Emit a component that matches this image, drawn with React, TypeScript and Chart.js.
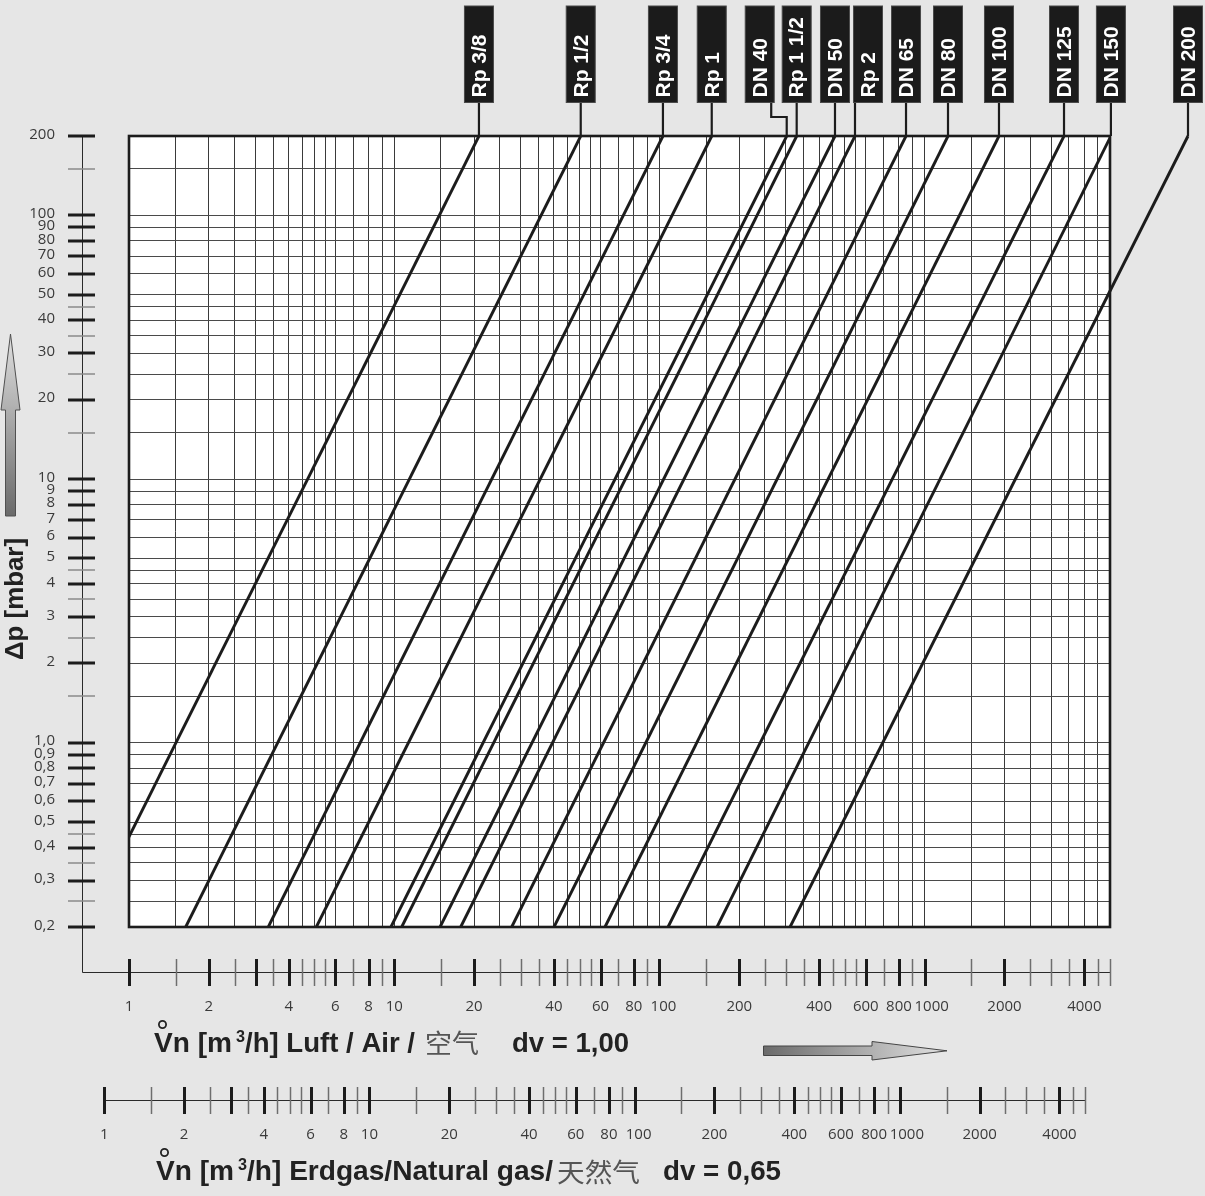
import { useEffect, useRef } from 'react';
import { Chart, registerables } from 'chart.js';

Chart.register(...registerables);

// ---- data ----
const valveNames = ['Rp 3/8', 'Rp 1/2', 'Rp 3/4', 'Rp 1', 'DN 40', 'Rp 1 1/2', 'DN 50', 'Rp 2', 'DN 65', 'DN 80', 'DN 100', 'DN 125', 'DN 150', 'DN 200'];
const dpLow = 0.2; // mbar
const dpHigh = 200; // mbar
// flow (air, m3/h) where each valve line meets dp = 0.2 mbar and dp = 200 mbar
const flowAtLow = [0.676, 1.636, 3.351, 5.085, 9.72, 10.67, 14.89, 17.81, 27.73, 40.05, 62.35, 107.8, 164.9, 310.8];
const flowAtHigh = [20.87, 50.5, 103.1, 157.5, 302, 329.3, 459.2, 546.3, 850.8, 1225, 1907, 3354, 5040, 9842];

const xMin = 1;
const xMax = 5000;
const yMin = 0.2;
const yMax = 200;

const xGridValues = [1, 1.5, 2, 2.5, 3, 3.5, 4, 4.5, 5, 5.5, 6, 7, 8, 9, 10, 15, 20, 25, 30, 35, 40, 45, 50, 55, 60, 70, 80, 90, 100, 150, 200, 250, 300, 350, 400, 450, 500, 550, 600, 700, 800, 900, 1000, 1500, 2000, 2500, 3000, 3500, 4000, 4500, 5000];
const xLabelValues = [1, 2, 4, 6, 8, 10, 20, 40, 60, 80, 100, 200, 400, 600, 800, 1000, 2000, 4000];
const xThickValues = [1, 2, 3, 4, 6, 8, 10, 20, 40, 60, 80, 100, 200, 400, 600, 800, 1000, 2000, 4000];

const yGridValues = [0.2, 0.25, 0.3, 0.35, 0.4, 0.45, 0.5, 0.6, 0.7, 0.8, 0.9, 1, 1.5, 2, 2.5, 3, 3.5, 4, 4.5, 5, 6, 7, 8, 9, 10, 15, 20, 25, 30, 35, 40, 45, 50, 60, 70, 80, 90, 100, 150, 200];
const yLabelValues = [0.2, 0.3, 0.4, 0.5, 0.6, 0.7, 0.8, 0.9, 1, 2, 3, 4, 5, 6, 7, 8, 9, 10, 20, 30, 40, 50, 60, 70, 80, 90, 100, 200];
const yLabelTexts = ['0,2', '0,3', '0,4', '0,5', '0,6', '0,7', '0,8', '0,9', '1,0', '2', '3', '4', '5', '6', '7', '8', '9', '10', '20', '30', '40', '50', '60', '70', '80', '90', '100', '200'];

const dvAir = 1.0;
const dvGas = 0.65;

// ---- layout (not data) ----
const labelShift: Record<string, number> = { 'DN 40': -27, 'Rp 2': 13 };
const xLabelNudge: Record<number, number> = { 100: 4, 1000: 7 };
const AX_X = 82;
const AIR_Y = 972;
const GAS_Y = 1100;
const INK = '#1c1c1c';
const TEXT_GRAY = '#3a3a3a';

function fitText(ctx: CanvasRenderingContext2D, text: string, x0: number, x1: number, baseline: number, font: string, color: string) {
  ctx.save();
  ctx.font = font;
  ctx.fillStyle = color;
  ctx.textAlign = 'left';
  ctx.textBaseline = 'alphabetic';
  const w = ctx.measureText(text).width;
  const s = (x1 - x0) / w;
  ctx.translate(x0, baseline);
  ctx.scale(s, 1);
  ctx.fillText(text, 0, 0);
  ctx.restore();
}

function ring(ctx: CanvasRenderingContext2D, cx: number, cy: number) {
  ctx.save();
  ctx.strokeStyle = '#222';
  ctx.lineWidth = 1.8;
  ctx.beginPath();
  ctx.arc(cx, cy, 3.6, 0, Math.PI * 2);
  ctx.stroke();
  ctx.restore();
}

const decor = {
  id: 'decor',
  beforeDraw(chart: any) {
    const { ctx, chartArea: a } = chart;
    ctx.save();
    ctx.fillStyle = '#e6e6e6';
    ctx.fillRect(0, 0, chart.width, chart.height);
    ctx.fillStyle = '#ffffff';
    ctx.fillRect(a.left, a.top, a.right - a.left, a.bottom - a.top);
    ctx.restore();
  },
  afterDraw(chart: any) {
    const { ctx, chartArea: a, scales } = chart;
    const xs = scales.x;
    const ys = scales.y;
    const gasFactor = Math.sqrt(dvGas / dvAir);
    ctx.save();

    // plot frame
    ctx.strokeStyle = INK;
    ctx.lineWidth = 2.6;
    ctx.strokeRect(a.left, a.top, a.right - a.left, a.bottom - a.top);

    // axis lines
    ctx.lineWidth = 1;
    ctx.strokeStyle = '#2a2a2a';
    ctx.beginPath();
    ctx.moveTo(AX_X + 0.5, ys.getPixelForValue(yMax));
    ctx.lineTo(AX_X + 0.5, AIR_Y + 0.5);
    ctx.lineTo(xs.getPixelForValue(xMax), AIR_Y + 0.5);
    ctx.stroke();
    ctx.beginPath();
    ctx.moveTo(xs.getPixelForValue(xMin * gasFactor), GAS_Y + 0.5);
    ctx.lineTo(xs.getPixelForValue(xMax * gasFactor), GAS_Y + 0.5);
    ctx.stroke();

    // y ticks
    yGridValues.forEach((v) => {
      const y = Math.round(ys.getPixelForValue(v));
      const major = yLabelValues.includes(v);
      ctx.strokeStyle = major ? INK : '#8a8a8a';
      ctx.lineWidth = major ? 3 : 1.5;
      ctx.beginPath();
      ctx.moveTo(68, y);
      ctx.lineTo(95, y);
      ctx.stroke();
    });
    ctx.fillStyle = TEXT_GRAY;
    ctx.font = '15px "Open Sans"';
    ctx.textAlign = 'right';
    ctx.textBaseline = 'middle';
    yLabelValues.forEach((v, i) => {
      const y = ys.getPixelForValue(v);
      ctx.fillText(yLabelTexts[i], 55, y - 1.5);
    });

    // x ticks (air and gas)
    const drawXAxis = (factor: number, lineY: number, labelY: number) => {
      xGridValues.forEach((v) => {
        const x = Math.round(xs.getPixelForValue(v * factor)) + 0.5;
        const thick = xThickValues.includes(v);
        ctx.strokeStyle = thick ? INK : '#6e6e6e';
        ctx.lineWidth = thick ? 3 : 1.5;
        ctx.beginPath();
        ctx.moveTo(x, lineY - 13);
        ctx.lineTo(x, lineY + 14);
        ctx.stroke();
      });
      ctx.fillStyle = TEXT_GRAY;
      ctx.font = '15px "Open Sans"';
      ctx.textAlign = 'center';
      ctx.textBaseline = 'middle';
      xLabelValues.forEach((v) => {
        ctx.fillText(String(v), xs.getPixelForValue(v * factor) + (xLabelNudge[v] || 0), labelY);
      });
    };
    drawXAxis(1, AIR_Y, 1007);
    drawXAxis(gasFactor, GAS_Y, 1135);

    // valve label boxes and leaders
    const boxTop = 6;
    const boxBottom = 102.5;
    const boxW = 29;
    valveNames.forEach((name, i) => {
      const lx = xs.getPixelForValue(flowAtHigh[i]);
      const bx = lx + (labelShift[name] || 0);
      ctx.strokeStyle = INK;
      ctx.lineWidth = 2.2;
      ctx.beginPath();
      if (Math.abs(lx - bx) <= boxW / 2) {
        ctx.moveTo(lx, boxBottom);
        ctx.lineTo(lx, a.top);
      } else {
        const x0 = lx > bx ? bx + boxW / 2 - 3 : bx - boxW / 2 + 3;
        ctx.moveTo(x0, boxBottom);
        ctx.lineTo(x0, 117);
        ctx.lineTo(lx, 117);
        ctx.lineTo(lx, a.top);
      }
      ctx.stroke();
      ctx.fillStyle = '#1b1b1b';
      ctx.fillRect(bx - boxW / 2, boxTop, boxW, boxBottom - boxTop);
      ctx.strokeStyle = '#4a4a4a';
      ctx.lineWidth = 1;
      ctx.strokeRect(bx - boxW / 2, boxTop, boxW, boxBottom - boxTop);
      ctx.save();
      ctx.translate(bx + 1, boxBottom - 5);
      ctx.rotate(-Math.PI / 2);
      ctx.fillStyle = '#ffffff';
      ctx.font = 'bold 21px "Liberation Sans"';
      ctx.textAlign = 'left';
      ctx.textBaseline = 'middle';
      ctx.fillText(name, 0, 0);
      ctx.restore();
    });

    // y-axis title
    ctx.save();
    ctx.translate(23, 599);
    ctx.rotate(-Math.PI / 2);
    ctx.font = 'bold 25px "Liberation Sans"';
    const tw = ctx.measureText('Δp [mbar]').width;
    ctx.scale(122 / tw, 1);
    ctx.fillStyle = '#222';
    ctx.textAlign = 'center';
    ctx.textBaseline = 'alphabetic';
    ctx.fillText('Δp [mbar]', 0, 0);
    ctx.restore();

    // bottom titles
    const bold = 'bold 27px "Liberation Sans"';
    const sup = 'bold 16px "Liberation Sans"';
    const cjk = '26px "Noto Sans CJK SC"';
    fitText(ctx, 'Vn [m', 154, 232, 1052, bold, '#222');
    fitText(ctx, '3', 236, 245, 1042, sup, '#222');
    fitText(ctx, '/h] Luft / Air /', 245, 415, 1052, bold, '#222');
    fitText(ctx, '空气', 425, 479, 1053, cjk, '#555555');
    fitText(ctx, 'dv = 1,00', 512, 629, 1052, bold, '#222');
    ring(ctx, 162.5, 1024.5);

    fitText(ctx, 'Vn [m', 156, 234, 1180, bold, '#222');
    fitText(ctx, '3', 238, 247, 1170, sup, '#222');
    fitText(ctx, '/h] Erdgas/Natural gas/', 247, 553, 1180, bold, '#222');
    fitText(ctx, '天然气', 557, 640, 1182, cjk, '#555555');
    fitText(ctx, 'dv = 0,65', 663, 781, 1180, bold, '#222');
    ring(ctx, 164.5, 1152.5);

    // vertical arrow (left)
    let g = ctx.createLinearGradient(0, 334, 0, 516);
    g.addColorStop(0, '#e0e0e0');
    g.addColorStop(1, '#6a6a6a');
    ctx.fillStyle = g;
    ctx.strokeStyle = '#505050';
    ctx.lineWidth = 1;
    ctx.beginPath();
    ctx.moveTo(10.5, 334);
    ctx.lineTo(20, 410);
    ctx.lineTo(15.5, 410);
    ctx.lineTo(15.5, 516);
    ctx.lineTo(5.5, 516);
    ctx.lineTo(5.5, 410);
    ctx.lineTo(1, 410);
    ctx.closePath();
    ctx.fill();
    ctx.stroke();

    // horizontal arrow (bottom)
    g = ctx.createLinearGradient(763, 0, 947, 0);
    g.addColorStop(0, '#6a6a6a');
    g.addColorStop(1, '#e2e2e2');
    ctx.fillStyle = g;
    ctx.strokeStyle = '#454545';
    ctx.beginPath();
    ctx.moveTo(763.5, 1046);
    ctx.lineTo(872, 1046);
    ctx.lineTo(872, 1041.5);
    ctx.lineTo(947, 1050.8);
    ctx.lineTo(872, 1060);
    ctx.lineTo(872, 1055.5);
    ctx.lineTo(763.5, 1055.5);
    ctx.closePath();
    ctx.fill();
    ctx.stroke();

    ctx.restore();
  },
};

export default function App() {
  const ref = useRef<HTMLCanvasElement | null>(null);

  useEffect(() => {
    if (!ref.current) return;
    const datasets = valveNames.map((name, i) => ({
      label: name,
      data: [
        { x: flowAtLow[i], y: dpLow },
        { x: flowAtHigh[i], y: dpHigh },
      ],
      showLine: true,
      borderColor: INK,
      backgroundColor: INK,
      borderWidth: 2.9,
      pointRadius: 0,
      fill: false,
      clip: name === 'DN 200' ? false : undefined,
    }));
    const chart = new Chart(ref.current, {
      type: 'scatter',
      data: { datasets: datasets as any },
      options: {
        responsive: false,
        animation: false,
        devicePixelRatio: 1,
        events: [],
        layout: { padding: { left: 129, top: 136, right: 95, bottom: 269 } },
        plugins: { legend: { display: false }, tooltip: { enabled: false } },
        scales: {
          x: {
            type: 'logarithmic',
            min: xMin,
            max: xMax,
            afterBuildTicks: (axis: any) => {
              axis.ticks = xGridValues.map((v) => ({ value: v }));
            },
            ticks: { display: false },
            grid: { color: '#3a3a3a', lineWidth: 1, drawTicks: false },
            border: { display: false },
          },
          y: {
            type: 'logarithmic',
            min: yMin,
            max: yMax,
            afterBuildTicks: (axis: any) => {
              axis.ticks = yGridValues.map((v) => ({ value: v }));
            },
            ticks: { display: false },
            grid: { color: '#4a4a4a', lineWidth: 1, drawTicks: false },
            border: { display: false },
          },
        },
      } as any,
      plugins: [decor],
    });
    return () => chart.destroy();
  }, []);

  return (
    <div style={{ position: 'absolute', left: 0, top: 0, width: 1205, height: 1196 }}>
      <canvas ref={ref} width={1205} height={1196} style={{ display: 'block', width: 1205, height: 1196 }} />
    </div>
  );
}
